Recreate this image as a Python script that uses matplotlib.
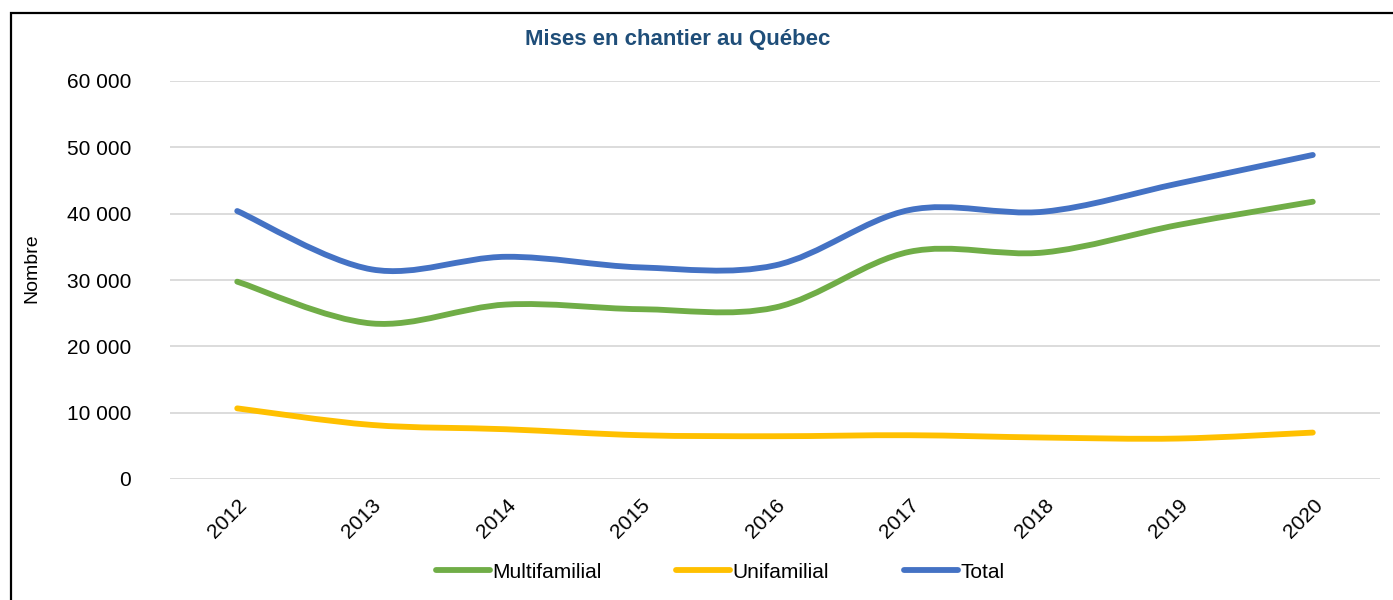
import numpy as np
import matplotlib.pyplot as plt
from matplotlib import font_manager
from matplotlib.path import Path
from matplotlib.patches import PathPatch, Rectangle
from matplotlib.lines import Line2D
from matplotlib.ticker import FuncFormatter

# données
annees = ['2012', '2013', '2014', '2015', '2016', '2017', '2018', '2019', '2020']
multifamilial = [29750, 23450, 26300, 25600, 25850, 34250, 34150, 38300, 41800]
unifamilial = [10650, 8150, 7500, 6600, 6450, 6600, 6250, 6100, 7000]
total = [40400, 31600, 33500, 31900, 32200, 40550, 40300, 44550, 48850]

series = [('Multifamilial', multifamilial, '#70AD47'),
          ('Unifamilial', unifamilial, '#FFC000'),
          ('Total', total, '#4472C4')]

# police étroite si disponible
noms = {f.name for f in font_manager.fontManager.ttflist}
police = 'Liberation Sans Narrow' if 'Liberation Sans Narrow' in noms else 'Liberation Sans'
plt.rcParams['font.family'] = [police, 'DejaVu Sans']


def courbe_lissee(x, y):
    """Chemin de Bézier passant par les points (lissage type Excel)"""
    n = len(x)
    verts = [(x[0], y[0])]
    codes = [Path.MOVETO]
    for i in range(n - 1):
        a = i - 1 if i > 0 else i
        b = i + 2 if i + 2 < n else i + 1
        c1 = (x[i] + (x[i + 1] - x[a]) / 6, y[i] + (y[i + 1] - y[a]) / 6)
        c2 = (x[i + 1] - (x[b] - x[i]) / 6, y[i + 1] - (y[b] - y[i]) / 6)
        verts += [c1, c2, (x[i + 1], y[i + 1])]
        codes += [Path.CURVE4] * 3
    return Path(verts, codes)


W, H = 1393, 600
fig = plt.figure(figsize=(W / 100, H / 100), dpi=100)
ax = fig.add_axes([170 / W, 1 - 479 / H, 1210 / W, 398 / H])

xs = np.arange(len(annees))
handles = []
for nom, vals, coul in series:
    p = courbe_lissee(xs, vals)
    ax.add_patch(PathPatch(p, facecolor='none', edgecolor=coul, lw=4.2,
                           capstyle='round', joinstyle='round', zorder=3))
    handles.append(Line2D([], [], color=coul, lw=4.2, solid_capstyle='round'))

ax.set_xlim(-0.5, len(annees) - 0.5)
ax.set_ylim(0, 60000)
ax.set_yticks(np.arange(0, 60001, 10000))
ax.yaxis.set_major_formatter(FuncFormatter(lambda v, p: f'{int(v):,}'.replace(',', ' ')))
ax.set_xticks(xs)
ax.set_xticklabels(annees, rotation=45, ha='right', rotation_mode='anchor')
ax.grid(axis='y', color='#D9D9D9', lw=1.3)
ax.set_axisbelow(True)
for s in ax.spines.values():
    s.set_visible(False)
ax.tick_params(axis='y', length=0, pad=28, labelsize=15)
ax.tick_params(axis='x', length=0, pad=12, labelsize=15)

fig.text(678 / W, 1 - 40 / H, 'Mises en chantier au Québec', ha='center', va='center',
         fontsize=16, fontweight='bold', color='#1F4E79')
fig.text(32 / W, 1 - 268 / H, 'Nombre', rotation=90, ha='center', va='center', fontsize=14)

fig.legend(handles, [s[0] for s in series], loc='center', bbox_to_anchor=(720 / W, 1 - 572 / H),
           ncol=3, frameon=False, fontsize=15, handlelength=2.6, handletextpad=0.1,
           columnspacing=3.6)

# cadre noir
fig.patches.append(Rectangle((10.5 / W, -0.1), 1.2, 1.1 - 13.5 / H, transform=fig.transFigure,
                             fill=False, edgecolor='black', lw=1.6))

fig.savefig('out.png', dpi=100)
